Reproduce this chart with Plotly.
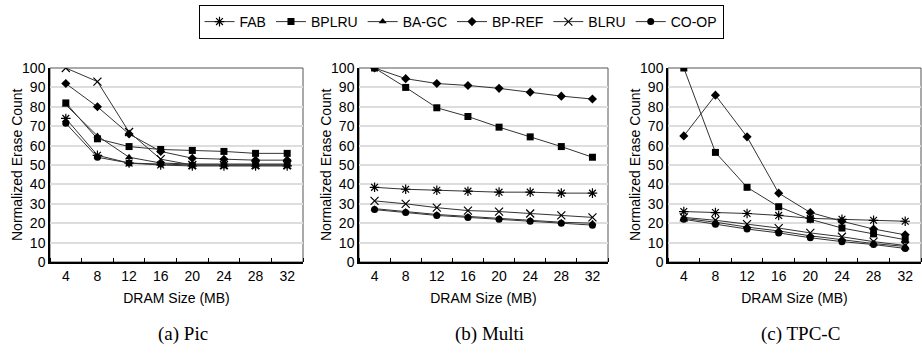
import plotly.graph_objects as go

dram = [4, 8, 12, 16, 20, 24, 28, 32]
series_names = ["FAB", "BPLRU", "BA-GC", "BP-REF", "BLRU", "CO-OP"]
symbols = ["asterisk-open", "square", "triangle-up", "diamond", "x-thin-open", "circle"]

pic = {
    "FAB":    [74, 55, 51, 50, 49.5, 49.5, 49.5, 49.5],
    "BPLRU":  [82, 63.5, 59.5, 58, 57.5, 57, 56, 56],
    "BA-GC":  [81, 65, 54, 51, 50.5, 50.5, 50.5, 50.5],
    "BP-REF": [92, 80, 66, 57, 53.5, 53, 52.5, 52.5],
    "BLRU":   [100, 93, 67, 53, 50, 50, 50, 50],
    "CO-OP":  [71.5, 54, 51, 50.5, 50, 50, 50, 50],
}
multi = {
    "FAB":    [38.5, 37.5, 37, 36.5, 36, 36, 35.5, 35.5],
    "BPLRU":  [100, 90, 79.5, 75, 69.5, 64.5, 59.5, 54],
    "BA-GC":  [27.5, 26, 24.5, 23.5, 22.5, 21.5, 20.5, 20],
    "BP-REF": [100, 94.5, 92, 91, 89.5, 87.5, 85.5, 84],
    "BLRU":   [31.5, 30, 28, 26.5, 26, 25, 24, 23],
    "CO-OP":  [27, 25.5, 24, 23, 22, 21, 20, 19],
}
tpcc = {
    "FAB":    [26, 25.5, 25, 24, 22.5, 22, 21.5, 21],
    "BPLRU":  [100, 56.5, 38.5, 28.5, 22, 17.5, 14.5, 11.5],
    "BA-GC":  [22.5, 20.5, 18, 16, 13.5, 11.5, 9.5, 8],
    "BP-REF": [65, 86, 64.5, 35.5, 25.5, 21, 17, 14],
    "BLRU":   [23, 21.5, 19.5, 17.5, 15, 13, 10.5, 8.5],
    "CO-OP":  [22, 19.5, 17, 15, 12.5, 10.5, 9, 7],
}
panels = [pic, multi, tpcc]
captions = ["(a) Pic", "(b) Multi", "(c) TPC-C"]
y_ticks = list(range(0, 101, 10))

W, H = 922, 354
xdoms = [(50, 303), (359, 608), (668, 921)]
ytop, ybot = 68, 262
ydom = [1 - ybot / H, 1 - ytop / H]

FONT = "Liberation Sans"
SERIF = "Liberation Serif"
fig = go.Figure()

for i, data in enumerate(panels):
    sfx = "" if i == 0 else str(i + 1)
    for name, sym in zip(series_names, symbols):
        open_sym = sym.endswith("open")
        fig.add_trace(go.Scatter(
            x=dram, y=data[name], name=name, mode="lines+markers",
            xaxis="x" + sfx, yaxis="y" + sfx, showlegend=(i == 0),
            line=dict(color="#333333", width=1),
            marker=dict(symbol=sym, size=7 if not open_sym else 8, color="black",
                        line=dict(color="black", width=1.2 if open_sym else 0)),
        ))
    x0, x1 = xdoms[i]
    fig.update_layout(**{
        "xaxis" + sfx: dict(
            domain=[x0 / W, x1 / W], range=[2, 34], anchor="y" + sfx,
            tickvals=dram, ticktext=[str(v) for v in dram], ticks="",
            showgrid=False, zeroline=False, showline=True, linecolor="black", linewidth=1.5,
            minor=dict(ticks="inside", tick0=2, dtick=4, ticklen=4, tickcolor="black", showgrid=False),
            tickfont=dict(size=14, family=FONT, color="black"),
            title=dict(text="DRAM Size (MB)", font=dict(size=14, family=FONT, color="black"), standoff=11),
            automargin=False,
        ),
        "yaxis" + sfx: dict(
            domain=ydom, range=[0, 100], anchor="x" + sfx,
            tickvals=y_ticks, ticks="", showgrid=True, gridcolor="#dddddd", gridwidth=1.5,
            zeroline=False, showline=True, linecolor="black", linewidth=1.5,
            tickfont=dict(size=14, family=FONT, color="black"),
            automargin=False,
        ),
    })
    fig.add_shape(type="rect", xref="x" + sfx + " domain", yref="y" + sfx + " domain",
                  x0=0, x1=1, y0=0, y1=1, line=dict(color="#555555", width=1), layer="below")
    fig.add_annotation(text="Normalized Erase Count", textangle=-90, xref="paper", yref="paper",
                       x=(x0 - 33) / W, xanchor="center", y=(ydom[0] + ydom[1]) / 2, yanchor="middle",
                       showarrow=False, font=dict(size=14, family=FONT, color="black"))
    fig.add_annotation(text=captions[i], xref="paper", yref="paper",
                       x=((x0 + x1) / 2 + 6) / W, xanchor="center", y=1 - 334 / H, yanchor="middle",
                       showarrow=False, font=dict(size=19, family=SERIF, color="black"))

fig.update_layout(
    width=W, height=H, margin=dict(l=0, r=0, t=0, b=0),
    paper_bgcolor="white", plot_bgcolor="white",
    font=dict(family=FONT, color="black"),
    legend=dict(orientation="h", x=0.5, xanchor="center", y=1 - 5 / H, yanchor="top",
                bordercolor="black", borderwidth=1, font=dict(size=14, family=FONT),
                itemwidth=30, tracegroupgap=0),
)

fig.write_html("out.html", config={"displayModeBar": False},
               post_script="document.body.style.margin='0';document.body.style.overflow='hidden';")
